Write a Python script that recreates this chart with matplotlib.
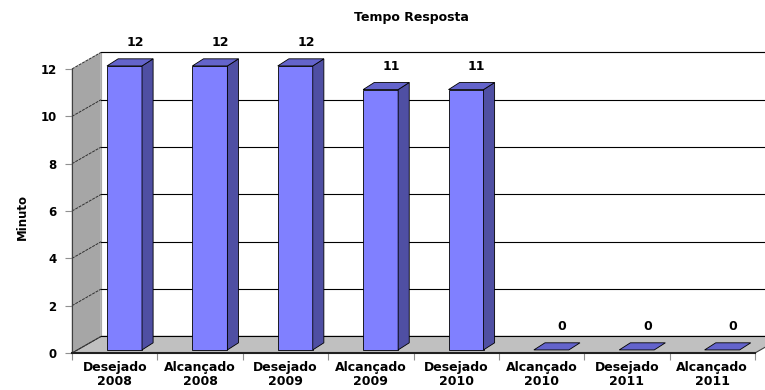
import matplotlib
matplotlib.use("Agg")
import matplotlib.pyplot as plt
from matplotlib.patches import Polygon

# data
categories = ["Desejado\n2008", "Alcançado\n2008", "Desejado\n2009", "Alcançado\n2009",
              "Desejado\n2010", "Alcançado\n2010", "Desejado\n2011", "Alcançado\n2011"]
values = [12, 12, 12, 11, 11, 0, 0, 0]
yticks = [0, 2, 4, 6, 8, 10, 12]
title = "Tempo Resposta"
ylabel = "Minuto"

# fake 3d geometry (data units)
WX, WY = 0.34, 0.70          # wall depth
BL, BW = 0.41, 0.41          # bar front-face left offset / width
BY0 = 0.13                   # bar recess in y
BDX, BDY = 0.13, 0.30        # bar depth

FRONT = "#8080FF"
SIDE = "#4F4FA3"
TOP = "#6464CC"
FONT = "DejaVu Sans"

plt.rcParams["font.family"] = FONT
fig = plt.figure(figsize=(7.65, 3.9), dpi=100)
ax = fig.add_axes([72 / 765, 37 / 390, 683 / 765, 284 / 390])
n = len(categories)
ymax = yticks[-1]
ax.set_xlim(0, n)
ax.set_ylim(0, ymax)
ax.patch.set_visible(False)


def poly(pts, fc, ec="black", lw=0.6, z=1):
    ax.add_patch(Polygon(pts, closed=True, facecolor=fc, edgecolor=ec,
                         linewidth=lw, zorder=z, clip_on=False))


# back wall
poly([(WX, WY), (n + WX, WY), (n + WX, ymax + WY), (WX, ymax + WY)], "white",
     ec="#808080", lw=0.8, z=0.5)
# left wall
poly([(0, 0), (WX, WY), (WX, ymax + WY), (0, ymax)], "#A6A6A6", ec="#C8C8C8", lw=0.8, z=1)
# floor
poly([(0, 0), (n, 0), (n + WX, WY), (WX, WY)], "#C0C0C0", ec="#404040", lw=0.8, z=1)

# gridlines
for t in yticks:
    ax.plot([WX, n + WX], [t + WY, t + WY], color="black", lw=0.8, zorder=1.2, clip_on=False)
    ax.plot([0, WX], [t, t + WY], color="#303030", lw=0.7, ls=(0, (3, 1)), zorder=1.2,
            clip_on=False)

# bars
for i, v in enumerate(values):
    x0 = i + BL
    x1 = x0 + BW
    y0 = BY0
    y1 = v + BY0
    if v > 0:
        poly([(x0, y0), (x1, y0), (x1, y1), (x0, y1)], FRONT, z=3)
        poly([(x1, y0), (x1 + BDX, y0 + BDY), (x1 + BDX, y1 + BDY), (x1, y1)], SIDE, z=3)
    poly([(x0, y1), (x1, y1), (x1 + BDX, y1 + BDY), (x0 + BDX, y1 + BDY)], TOP, z=3.1)
    ax.annotate(str(v), (i + 0.74, y1 + BDY), xytext=(0, 11.5), textcoords="offset points",
                ha="center", va="center", fontsize=9, fontweight="bold", annotation_clip=False)

# axes
for s in ["top", "right"]:
    ax.spines[s].set_visible(False)
ax.spines["left"].set_color("#404040")
ax.spines["left"].set_linewidth(0.8)
ax.spines["bottom"].set_color("#202020")
ax.spines["bottom"].set_linewidth(1.5)
ax.spines["left"].set_zorder(2)
ax.spines["bottom"].set_zorder(2)

ax.set_yticks(yticks)
ax.set_yticklabels([str(t) for t in yticks], fontsize=8.5, fontweight="bold")
ax.tick_params(axis="y", length=5, color="#909090", pad=6)
ax.set_xticks(range(n + 1))
ax.set_xticklabels([])
ax.tick_params(axis="x", which="major", length=5, color="#909090")
ax.set_xticks([i + 0.5 for i in range(n)], minor=True)
ax.set_xticklabels(categories, minor=True, fontsize=9, fontweight="bold", linespacing=1.05)
ax.tick_params(axis="x", which="minor", length=0, pad=6)

fig.text(411 / 765, 1 - 18 / 390, title, ha="center", va="center", fontsize=9, fontweight="bold")
fig.text(22 / 765, 1 - 217 / 390, ylabel, ha="center", va="center", rotation=90,
         fontsize=8.5, fontweight="bold")

fig.savefig("out.png", dpi=100)
